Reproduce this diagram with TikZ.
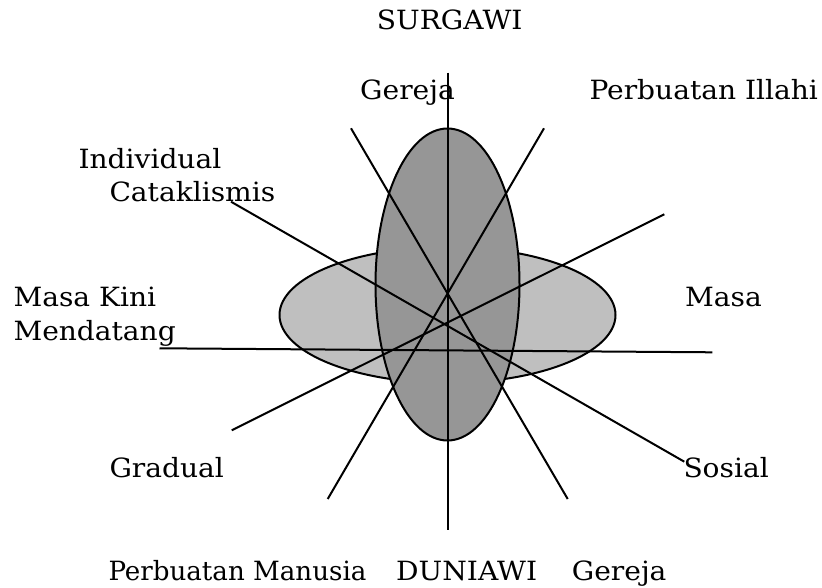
\documentclass[tikz,border=0pt]{standalone}
\usepackage{fontspec}
\setmainfont[FakeStretch=1.06]{DejaVu Serif}
\begin{document}
\begin{tikzpicture}[x=1pt,y=-1pt,
  lbl/.style={anchor=base west,inner sep=0pt,font=\fontsize{26.5}{32}\selectfont},
  ray/.style={line width=2pt,black},
  oval/.style={line width=2pt,draw=black}]
\useasboundingbox (0,0) rectangle (822,588);
% ellipses
\path[oval,fill=black!25] (447.5,315) ellipse [x radius=168,y radius=68];
\path[oval,fill=black!41] (447.5,284.5) ellipse [x radius=72,y radius=156];
% end points
\coordinate (vT) at (448,72.7);
\coordinate (vB) at (448,530);
\coordinate (gT) at (351,128.3);
\coordinate (gB) at (567.7,499);
\coordinate (pT) at (544,128.3);
\coordinate (pB) at (327.7,499);
\coordinate (cT) at (231,201.7);
\coordinate (cB) at (684.3,461.7);
\coordinate (dB) at (231.7,430.3);
\coordinate (dT) at (664.3,214.3);
\coordinate (hL) at (159.5,348.3);
\coordinate (hR) at (712.3,352.3);
\draw[ray] (vT) -- (vB);
\draw[ray] (gT) -- (gB);
\draw[ray] (pT) -- (pB);
\draw[ray] (cT) -- (cB);
\draw[ray] (dB) -- (dT);
\draw[ray] (hL) -- (hR);
% labels
\node[lbl] (surgawi) at (376.7,29.3) {SURGAWI};
\node[lbl] (gereja1) at (360,99.3) {Gereja};
\node[lbl] (illahi) at (589.3,99.3) {Perbuatan Illahi};
\node[lbl] (indiv) at (78.3,168.3) {Individual};
\node[lbl] (catak) at (109.3,201.7) {Cataklismis};
\node[lbl] (kini) at (13.3,306.7) {Masa Kini};
\node[lbl] (mendatang) at (13.3,340.7) {Mendatang};
\node[lbl] (masa) at (685,306.7) {Masa};
\node[lbl] (gradual) at (109.3,477.3) {Gradual};
\node[lbl] (sosial) at (683.3,477.3) {Sosial};
\node[lbl] (manusia) at (108.3,580.7) {\scalebox{0.93}[1]{Perbuatan Manusia}};
\node[lbl] (duniawi) at (396,580.7) {DUNIAWI};
\node[lbl] (gereja2) at (571.7,580.7) {Gereja};
\end{tikzpicture}
\end{document}
